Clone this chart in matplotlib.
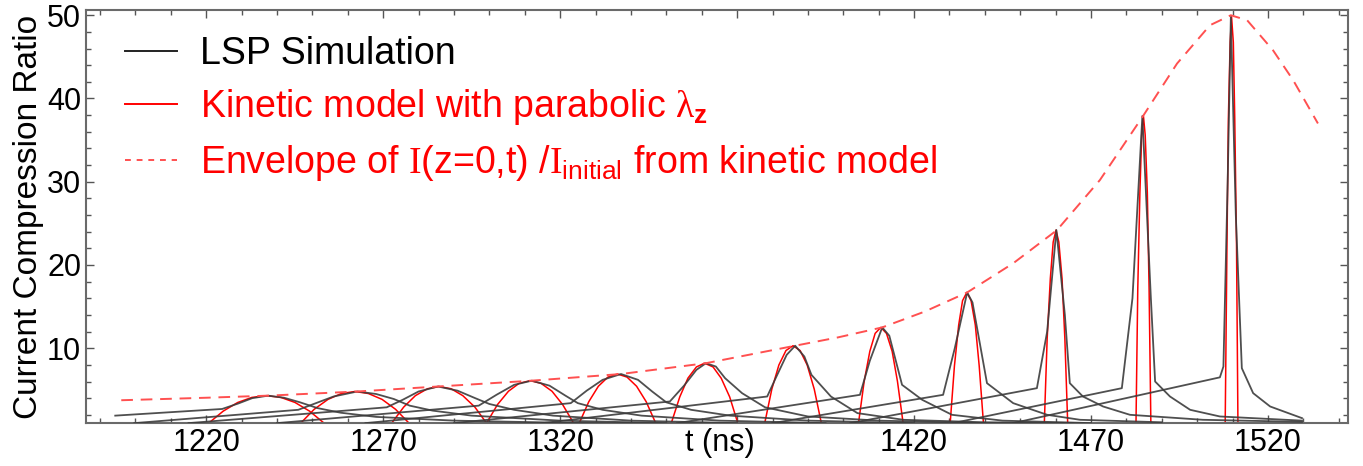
import matplotlib
matplotlib.use('Agg')
import matplotlib.pyplot as plt
import matplotlib.transforms as mtransforms
from matplotlib.lines import Line2D
from matplotlib.ticker import MultipleLocator

plt.rcParams['font.family'] = ['Liberation Sans', 'DejaVu Sans']
plt.rcParams['mathtext.fontset'] = 'custom'
plt.rcParams['mathtext.rm'] = 'Liberation Serif'
plt.rcParams['mathtext.sf'] = 'Liberation Sans'
plt.rcParams['mathtext.bf'] = 'Liberation Sans:bold'

# LSP simulation pulses (t in ns, current compression ratio)
lsp_t = [
    [1194.3, 1224.5, 1229, 1233, 1237.5, 1242, 1246.5, 1251.5, 1258, 1268, 1290, 1320, 1350],
    [1199.7, 1246, 1251, 1256, 1262.7, 1268, 1273, 1277.5, 1284, 1295, 1320, 1350],
    [1215, 1271, 1275.5, 1280, 1285.5, 1291, 1296, 1300, 1307, 1318, 1340, 1370],
    [1240, 1297, 1302, 1307, 1312, 1317, 1321.5, 1325, 1332, 1343, 1365, 1395],
    [1265, 1323, 1327.5, 1332, 1337.2, 1342, 1346, 1350, 1357, 1368, 1390, 1420],
    [1290, 1351, 1355, 1358.5, 1361.2, 1364, 1366.6, 1371.4, 1377.9, 1390, 1410, 1440],
    [1315, 1378.5, 1381, 1384, 1386.4, 1389, 1391, 1396.5, 1404, 1417, 1440, 1465],
    [1353, 1404.7, 1407.5, 1411, 1413, 1416.6, 1422.3, 1430.7, 1445, 1470],
    [1380, 1428.2, 1431.5, 1435, 1436.5, 1440.6, 1448, 1457.6, 1466.9, 1490],
    [1402, 1437.2, 1454.7, 1457.6, 1460.2, 1462.6, 1464.0, 1467.7, 1473.4, 1481.0, 1501.6, 1529.6],
    [1431, 1478.7, 1481.7, 1484.5, 1486.9, 1488.1, 1492.3, 1498.0, 1506.4, 1529.6],
    [1448, 1506.4, 1507.4, 1508.6, 1509.5, 1510.9, 1512.6, 1515.8, 1520.6, 1529.6],
]
lsp_v = [
    [1.9, 2.7, 3.35, 4.0, 4.3, 4.05, 3.5, 2.8, 2.25, 1.75, 1.3, 1.05, 0.9],
    [1.0, 2.6, 3.4, 4.2, 4.8, 4.5, 3.9, 3.1, 2.5, 1.9, 1.3, 1.0],
    [1.0, 2.9, 3.8, 4.8, 5.4, 4.9, 4.0, 3.3, 2.6, 1.9, 1.3, 1.0],
    [1.0, 3.1, 4.4, 5.6, 6.1, 5.5, 4.3, 3.4, 2.6, 1.9, 1.3, 1.0],
    [1.0, 3.4, 4.9, 6.2, 6.9, 6.2, 4.8, 3.5, 2.6, 1.9, 1.3, 1.0],
    [1.0, 3.6, 5.5, 7.4, 8.2, 7.8, 6.4, 4.6, 2.9, 1.8, 1.3, 1.0],
    [1.0, 4.2, 6.5, 9.2, 10.3, 9.0, 6.8, 4.2, 2.2, 1.4, 1.1, 1.0],
    [1.0, 4.4, 8.5, 12.5, 11.5, 5.6, 3.8, 2.0, 1.3, 1.0],
    [1.0, 4.4, 10.0, 16.7, 15.5, 5.8, 3.4, 2.0, 1.4, 1.1],
    [1.0, 3.8, 5.2, 12.0, 24.2, 14.0, 5.8, 4.2, 3.0, 2.0, 1.4, 1.15],
    [1.0, 5.2, 16.0, 37.9, 16.0, 6.0, 4.2, 2.6, 1.8, 1.3],
    [1.0, 6.5, 7.8, 30.0, 49.8, 26.0, 7.6, 4.6, 3.0, 1.6],
]

# kinetic model arches (parabolic lambda_z)
red_t = [
    [1220.7, 1224.8, 1228.9, 1232.9, 1237.0, 1241.1, 1245.1, 1249.2, 1253.3],
    [1246.7, 1250.5, 1254.4, 1258.2, 1262.0, 1265.8, 1269.7, 1273.5, 1277.3],
    [1272.4, 1275.8, 1279.1, 1282.5, 1285.8, 1289.2, 1292.5, 1295.9, 1299.2],
    [1299.2, 1302.3, 1305.4, 1308.4, 1311.5, 1314.6, 1317.7, 1320.7, 1323.8],
    [1325.4, 1328.1, 1330.8, 1333.5, 1336.2, 1338.9, 1341.6, 1344.3, 1347.0],
    [1351.4, 1353.8, 1356.1, 1358.5, 1360.8, 1363.2, 1365.5, 1367.9, 1370.2],
    [1377.8, 1379.8, 1381.8, 1383.8, 1385.8, 1387.8, 1389.8, 1391.8, 1393.8],
    [1404.3, 1405.9, 1407.5, 1409.0, 1410.6, 1412.2, 1413.8, 1415.3, 1416.9],
    [1430.2, 1431.4, 1432.6, 1433.7, 1434.9, 1436.1, 1437.3, 1438.4, 1439.6],
    [1456.8, 1457.6, 1458.5, 1459.3, 1460.1, 1460.9, 1461.8, 1462.6, 1463.4],
    [1482.7, 1483.2, 1483.8, 1484.3, 1484.8, 1485.3, 1485.9, 1486.4, 1486.9],
    [1507.9, 1508.4, 1508.8, 1509.3, 1509.7, 1510.2, 1510.6, 1511.1, 1511.5],
]
red_v = [
    [1.0, 2.44, 3.48, 4.09, 4.3, 4.09, 3.48, 2.44, 1.0],
    [1.0, 2.66, 3.85, 4.56, 4.8, 4.56, 3.85, 2.66, 1.0],
    [1.0, 2.93, 4.3, 5.13, 5.4, 5.13, 4.3, 2.93, 1.0],
    [1.0, 3.23, 4.83, 5.78, 6.1, 5.78, 4.83, 3.23, 1.0],
    [1.0, 3.58, 5.43, 6.53, 6.9, 6.53, 5.43, 3.58, 1.0],
    [1.0, 4.15, 6.4, 7.75, 8.2, 7.75, 6.4, 4.15, 1.0],
    [1.0, 5.07, 7.98, 9.72, 10.3, 9.72, 7.98, 5.07, 1.0],
    [1.0, 6.03, 9.63, 11.78, 12.5, 11.78, 9.63, 6.03, 1.0],
    [1.0, 7.87, 12.78, 15.72, 16.7, 15.72, 12.78, 7.87, 1.0],
    [1.0, 11.15, 18.4, 22.75, 24.2, 22.75, 18.4, 11.15, 1.0],
    [1.0, 17.1, 28.7, 35.6, 37.9, 35.6, 28.7, 17.1, 1.0],
    [1.0, 22.35, 37.6, 46.75, 49.8, 46.75, 37.6, 22.35, 1.0],
]

# envelope of I(z=0,t)/I_initial
env_t = [1196.0, 1220, 1237.5, 1262.7, 1285.5, 1312, 1337.2, 1361.2, 1386.4, 1398.5,
         1411, 1423, 1435, 1448, 1460.4, 1472.5, 1484.7, 1494.3, 1503.6, 1509.5,
         1514.1, 1521.4, 1527.1, 1534.1]
env_v = [3.75, 4.05, 4.3, 4.8, 5.4, 6.1, 6.9, 8.2, 10.3, 11.3,
         12.5, 14.4, 16.7, 20.2, 24.2, 30.2, 37.9, 44.2, 48.8, 50.0,
         49.4, 45.8, 42.2, 37.0]

x_ticks = [1220, 1270, 1320, 1370, 1420, 1470, 1520]
x_labels = ['1220', '1270', '1320', '', '1420', '1470', '1520']
y_ticks = [10, 20, 30, 40, 50]

fig = plt.figure(figsize=(13.63, 4.66), dpi=100)
ax = fig.add_axes([0.063, 0.092, 0.926, 0.886])

for t, v in zip(red_t, red_v):
    ax.plot(t, v, color='#ff0000', lw=1.1, zorder=2)
for t, v in zip(lsp_t, lsp_v):
    ax.plot(t, v, color='#3c3c3c', lw=1.3, alpha=0.9, zorder=3)
ax.plot(env_t, env_v, color='#ff5050', lw=1.4, dashes=(6, 4), zorder=4)

ax.set_xlim(1186, 1542.6)
ax.set_ylim(1.0, 50.6)
ax.set_xticks(x_ticks)
ax.set_xticklabels(x_labels)
ax.set_yticks(y_ticks)
ax.xaxis.set_minor_locator(MultipleLocator(10))
ax.yaxis.set_minor_locator(MultipleLocator(2))
ax.tick_params(which='both', direction='in', top=True, right=True,
               colors='#555555', labelcolor='black', labelsize=22, width=1)
ax.tick_params(which='major', length=6)
ax.tick_params(which='minor', length=3.5)
for s in ax.spines.values():
    s.set_color('#6a6a6a')
    s.set_linewidth(1.5)
ax.set_ylabel('Current Compression Ratio', fontsize=24, labelpad=2)

# axis title sits in the tick-label row, slightly left of the 1370 tick
lab_tr = mtransforms.offset_copy(ax.get_xaxis_transform(), fig=fig, y=-3.5, units='points')
ax.text(1365, 0, 't (ns)', transform=lab_tr, ha='center', va='top', fontsize=22)

handles = [Line2D([], [], color='#222222', lw=1.4),
           Line2D([], [], color='#ff0000', lw=1.4),
           Line2D([], [], color='#ff5050', lw=1.4, dashes=(3, 3))]
labels = ['LSP Simulation',
          r'Kinetic model with parabolic $\mathrm{\lambda}_{\mathbf{z}}$',
          r'Envelope of $\mathrm{I}$(z=0,t) /$\mathrm{I}_{\mathsf{initial}}$ from kinetic model']
ax.legend(handles, labels, loc='upper left', bbox_to_anchor=(0.004, 1.02),
          frameon=False, fontsize=27, handlelength=1.4, handletextpad=0.6,
          labelspacing=0.42, labelcolor=['black', 'red', 'red'])

fig.savefig('out.png', dpi=100)
